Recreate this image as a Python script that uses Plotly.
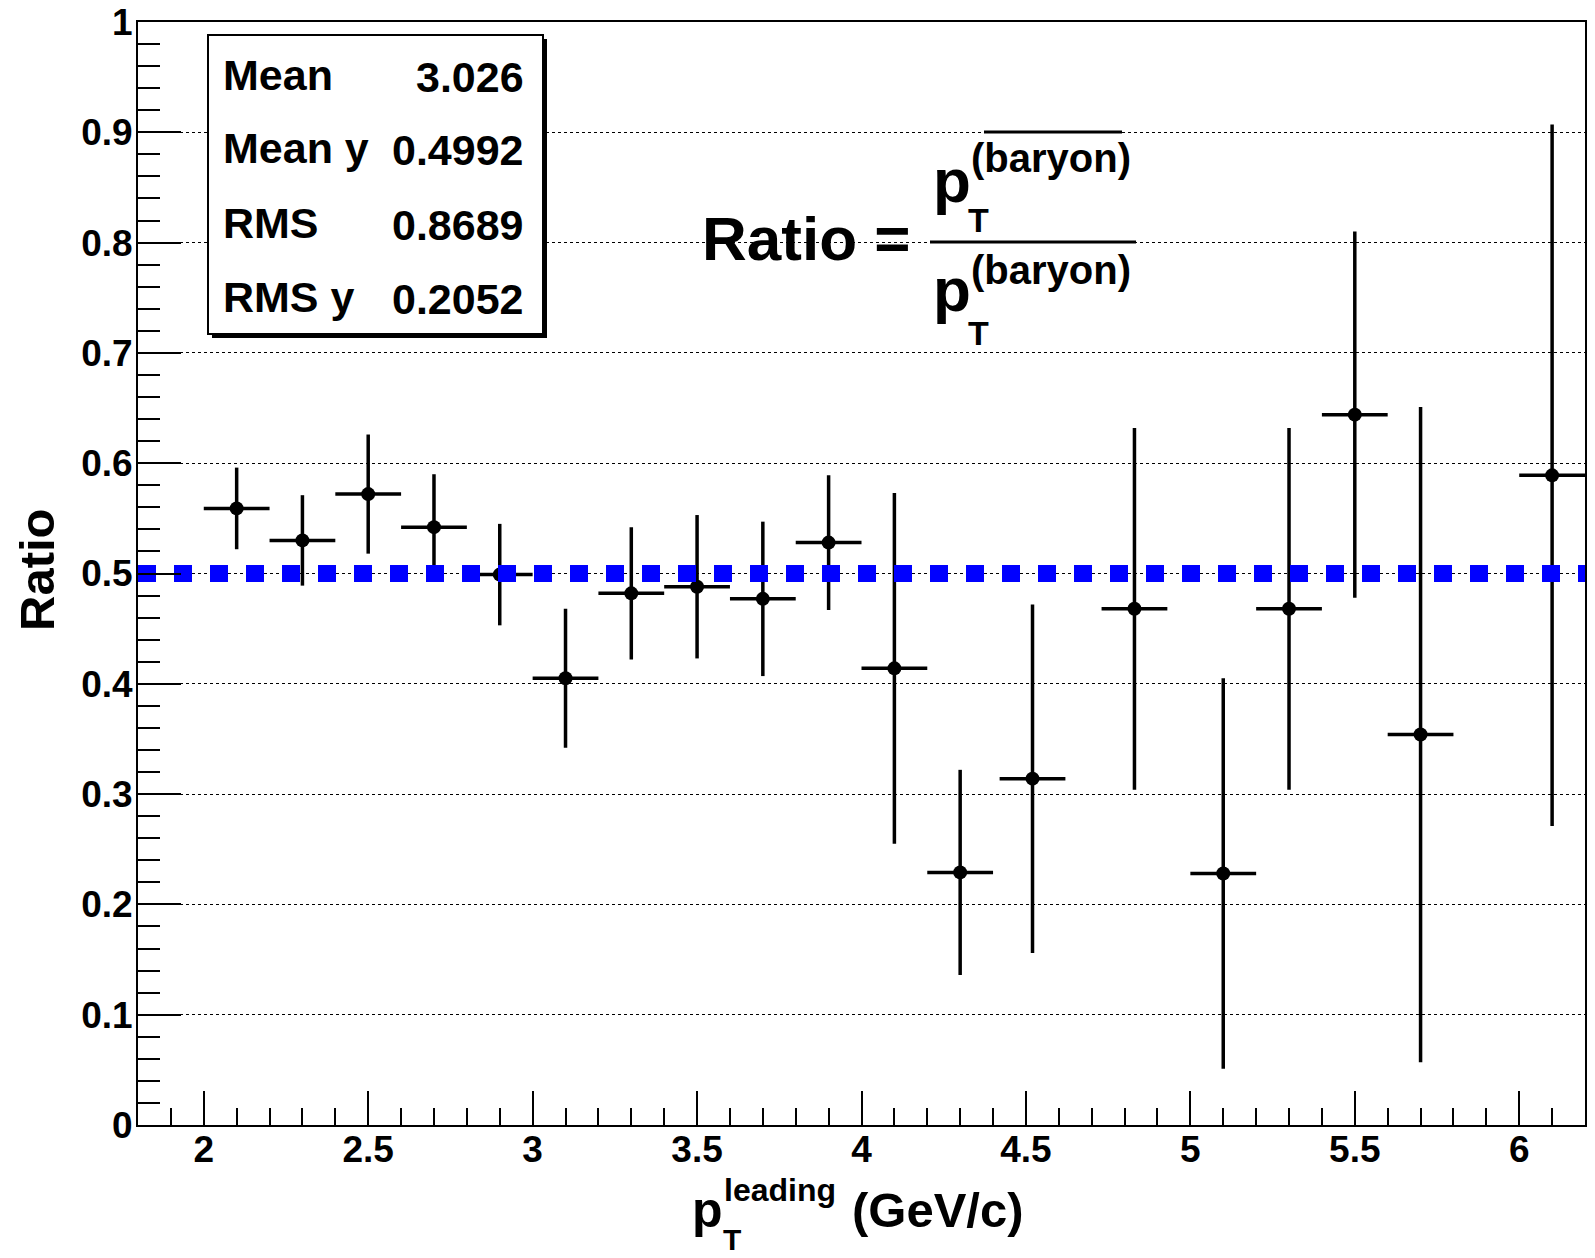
import plotly.graph_objects as go

# ---- data ----
pt_leading = [2.1, 2.3, 2.5, 2.7, 2.9, 3.1, 3.3, 3.5, 3.7, 3.9, 4.1, 4.3, 4.52, 4.83, 5.1, 5.3, 5.5, 5.7, 6.1]
ratio = [0.559, 0.530, 0.572, 0.542, 0.499, 0.405, 0.482, 0.488, 0.477, 0.528, 0.414, 0.229, 0.314, 0.468, 0.228, 0.468, 0.644, 0.354, 0.589]
ratio_err = [0.037, 0.041, 0.054, 0.048, 0.046, 0.063, 0.060, 0.065, 0.070, 0.061, 0.159, 0.093, 0.158, 0.164, 0.177, 0.164, 0.166, 0.297, 0.318]
pt_halfwidth = [0.1] * len(pt_leading)
reference_level = 0.5
x_range = [1.8, 6.2]
y_range = [0.0, 1.0]
stat_names = ["Mean", "Mean y", "RMS", "RMS y"]
stat_values = ["3.026", "0.4992", "0.8689", "0.2052"]

# ---- geometry (page pixel coordinates; the page body has an 8px margin) ----
OFF = 8
W, H = 1595 - OFF, 1258 - OFF
PL, PR, PT, PB = 138, 1585, 22, 1125          # plot area in page coords
L, T = PL - OFF, PT - OFF
R, B = W - (PR - OFF), H - (PB - OFF)
PW, PH = PR - PL, PB - PT
FONT = "Liberation Sans, Arial, Helvetica, sans-serif"


def px(x):
    return (x - PL) / PW


def py(y):
    return (PB - y) / PH


def bold(size):
    return dict(family=FONT, size=size, color="black", weight="bold")


fig = go.Figure()

fig.add_trace(go.Scatter(
    x=pt_leading, y=ratio, mode="markers",
    marker=dict(color="black", size=14),
    error_y=dict(type="data", array=ratio_err, color="black", thickness=3.5, width=0),
    error_x=dict(type="data", array=pt_halfwidth, color="black", thickness=3.5, width=0),
    showlegend=False, hoverinfo="x+y",
))

fig.add_trace(go.Scatter(
    x=x_range, y=[reference_level, reference_level], mode="lines",
    line=dict(color="#0000ff", width=17, dash="18px,18px"),
    showlegend=False, hoverinfo="skip",
))

annotations = []
shapes = []

# stats box with shadow
bx0, bx1, by0, by1 = 208, 543, 35, 334
shapes.append(dict(type="rect", xref="paper", yref="paper",
                   x0=px(bx0 + 4), x1=px(bx1 + 4), y0=py(by1 + 4), y1=py(by0 + 4),
                   fillcolor="black", line=dict(width=0), layer="above"))
shapes.append(dict(type="rect", xref="paper", yref="paper",
                   x0=px(bx0), x1=px(bx1), y0=py(by1), y1=py(by0),
                   fillcolor="white", line=dict(color="black", width=2), layer="above"))
row_y = [75, 148, 223, 297]
for name, val, yy in zip(stat_names, stat_values, row_y):
    annotations.append(dict(text=name, xref="paper", yref="paper", x=px(221), y=py(yy),
                            xanchor="left", yanchor="middle", showarrow=False, font=bold(43)))
    annotations.append(dict(text=val, xref="paper", yref="paper", x=px(526), y=py(yy + 2),
                            xanchor="right", yanchor="middle", showarrow=False, font=bold(43)))

# formula: Ratio = pT(baryon-bar) / pT(baryon)
annotations.append(dict(text="Ratio =", xref="paper", yref="paper", x=px(700), y=py(239),
                        xanchor="left", yanchor="middle", showarrow=False, font=bold(62)))
shapes.append(dict(type="line", xref="paper", yref="paper", x0=px(930), x1=px(1136),
                   y0=py(242), y1=py(242), line=dict(color="black", width=3), layer="above"))
for pcy, tcy, bcy in [(180, 220, 158), (290, 333, 270)]:
    annotations.append(dict(text="p", xref="paper", yref="paper", x=px(931), y=py(pcy),
                            xanchor="left", yanchor="middle", showarrow=False, font=bold(62)))
    annotations.append(dict(text="T", xref="paper", yref="paper", x=px(966), y=py(tcy),
                            xanchor="left", yanchor="middle", showarrow=False, font=bold(34)))
    annotations.append(dict(text="(baryon)", xref="paper", yref="paper", x=px(969), y=py(bcy),
                            xanchor="left", yanchor="middle", showarrow=False, font=bold(40)))
shapes.append(dict(type="line", xref="paper", yref="paper", x0=px(984), x1=px(1122),
                   y0=py(132), y1=py(132), line=dict(color="black", width=3), layer="above"))

# x-axis title: pT^leading (GeV/c)
annotations.append(dict(text="p", xref="paper", yref="paper", x=px(690), y=py(1210),
                        xanchor="left", yanchor="middle", showarrow=False, font=bold(50)))
annotations.append(dict(text="T", xref="paper", yref="paper", x=px(721), y=py(1258),
                        xanchor="left", yanchor="bottom", showarrow=False, font=bold(30)))
annotations.append(dict(text="leading", xref="paper", yref="paper", x=px(722), y=py(1190),
                        xanchor="left", yanchor="middle", showarrow=False, font=bold(32)))
annotations.append(dict(text="(GeV/c)", xref="paper", yref="paper", x=px(850), y=py(1210),
                        xanchor="left", yanchor="middle", showarrow=False, font=bold(49)))

# y-axis title
annotations.append(dict(text="Ratio", xref="paper", yref="paper", x=px(37), y=py(570),
                        xanchor="center", yanchor="middle", textangle=-90, showarrow=False,
                        borderpad=0, font=bold(49)))

fig.update_layout(
    width=W, height=H,
    margin=dict(l=L, r=R, t=T, b=B, autoexpand=False),
    paper_bgcolor="white", plot_bgcolor="white",
    font=dict(family=FONT, color="black"),
    annotations=annotations, shapes=shapes,
    showlegend=False,
)

fig.update_xaxes(
    range=x_range, showgrid=False, zeroline=False, automargin=False,
    showline=True, linecolor="black", linewidth=2, mirror=True,
    ticks="inside", ticklen=34, tickwidth=2, tickcolor="black",
    tick0=0, dtick=0.5,
    minor=dict(ticks="inside", dtick=0.1, tick0=0, ticklen=17, tickwidth=2, tickcolor="black", showgrid=False),
    tickfont=bold(37),
    ticklabelstandoff=-9, ticklabeloverflow="allow",
)
fig.update_yaxes(
    range=y_range, showgrid=True, gridcolor="black", gridwidth=1, griddash="dot",
    zeroline=False, automargin=False,
    showline=True, linecolor="black", linewidth=2, mirror=True,
    ticks="inside", ticklen=43, tickwidth=2, tickcolor="black",
    tick0=0, dtick=0.1,
    minor=dict(ticks="inside", dtick=0.02, tick0=0, ticklen=22, tickwidth=2, tickcolor="black", showgrid=False),
    tickfont=bold(37),
    ticklabelstandoff=-4, ticklabeloverflow="allow",
)

fig.write_html("out.html")
